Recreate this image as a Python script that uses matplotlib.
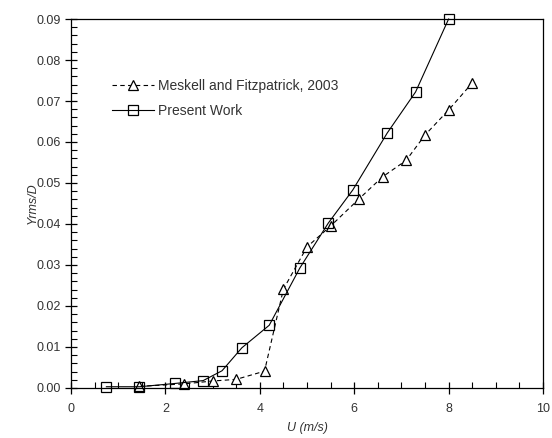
import matplotlib
matplotlib.use("Agg")
import matplotlib.pyplot as plt
from matplotlib.ticker import MultipleLocator, FormatStrFormatter

plt.rcParams['font.family'] = ['Liberation Sans', 'DejaVu Sans']

# Meskell and Fitzpatrick, 2003
u_mf = [1.45, 2.4, 3.0, 3.5, 4.1, 4.5, 5.0, 5.5, 6.1, 6.6, 7.1, 7.5, 8.0, 8.5]
y_mf = [0.0004, 0.001, 0.0017, 0.0021, 0.0041, 0.0241, 0.0344, 0.0395, 0.0461,
        0.0515, 0.0555, 0.0617, 0.0678, 0.0744]

# Present Work
u_pw = [0.75, 1.45, 2.2, 2.8, 3.2, 3.62, 4.2, 4.85, 5.45, 5.97, 6.7, 7.3, 8.0]
y_pw = [0.0003, 0.0003, 0.0011, 0.0018, 0.0042, 0.0098, 0.0153, 0.0293, 0.0402,
        0.0483, 0.0622, 0.0722, 0.09]

fig = plt.figure(figsize=(5.52, 4.38), dpi=100)
ax = fig.add_axes([0.1286, 0.1142, 0.8551, 0.8424])

ax.plot(u_mf, y_mf, linestyle=(0, (4, 3)), color='black', linewidth=0.8,
        marker='^', markersize=7, markerfacecolor='white', markeredgecolor='black',
        markeredgewidth=0.9, label='Meskell and Fitzpatrick, 2003', clip_on=False)
ax.plot(u_pw, y_pw, linestyle='-', color='black', linewidth=0.8,
        marker='s', markersize=7, markerfacecolor='none', markeredgecolor='black',
        markeredgewidth=0.9, label='Present Work', clip_on=False)

ax.set_xlim(0, 10)
ax.set_ylim(0, 0.09)
ax.xaxis.set_major_locator(MultipleLocator(2))
ax.xaxis.set_minor_locator(MultipleLocator(0.5))
ax.yaxis.set_major_locator(MultipleLocator(0.01))
ax.yaxis.set_minor_locator(MultipleLocator(0.002))
ax.yaxis.set_major_formatter(FormatStrFormatter('%.2f'))
ax.tick_params(which='major', direction='inout', length=8, width=0.9,
               labelsize=9, colors='black', labelcolor='#333333')
ax.tick_params(which='minor', direction='in', length=4, width=0.8)
ax.tick_params(axis='x', which='major', pad=7)
for s in ax.spines.values():
    s.set_linewidth(0.9)

ax.set_xlabel('U (m/s)', style='italic', fontsize=9, color='#333333', labelpad=5)
ax.set_ylabel('Yrms/D', style='italic', fontsize=9, color='#333333', labelpad=-2)

leg = ax.legend(loc='upper left', bbox_to_anchor=(0.087, 0.838), frameon=False,
                fontsize=10, handlelength=3.0, handletextpad=0.3, labelspacing=0.8,
                borderaxespad=0, borderpad=0)
for t in leg.get_texts():
    t.set_color('#333333')

fig.savefig('out.png', dpi=100)
